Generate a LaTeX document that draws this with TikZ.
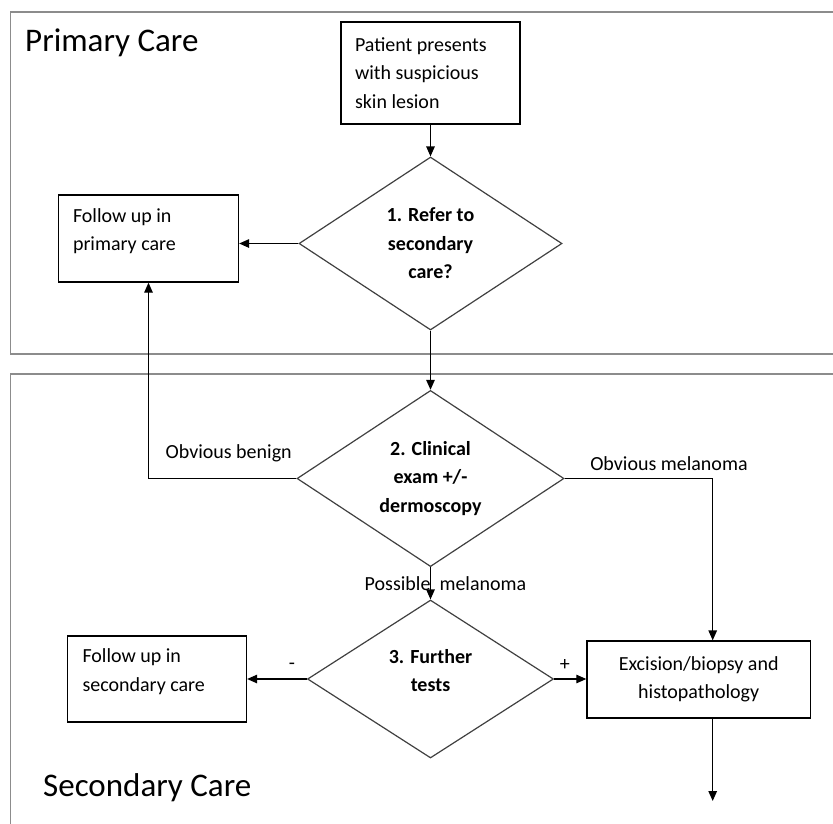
\documentclass[tikz,border=0pt]{standalone}
\usepackage{fontspec}
\setmainfont{Carlito}
\usetikzlibrary{shapes.geometric,arrows.meta}

\begin{document}
\begin{tikzpicture}[
    x=1pt, y=-1pt,
    every node/.style={font=\fontsize{20}{28.5}\selectfont},
    lane/.style={draw=gray!90, line width=1.2pt},
    stepbox/.style={rectangle, draw=black, line width=1.3pt, inner ysep=0pt, align=flush left},
    decision/.style={diamond, draw=black!75, line width=1.2pt, inner sep=0pt, align=center,
      font=\fontsize{20}{28.5}\selectfont\bfseries},
    link/.style={line width=1.3pt, -{Triangle[length=10pt,width=8.5pt]}},
    title/.style={anchor=west, inner sep=0pt, font=\fontsize{33}{38}\selectfont}
  ]
    \clip (0,0) rectangle (833,823);
    % swim lanes
    \draw[lane] (10.5,12) rectangle (850,354);
    \draw[lane] (10.5,374) rectangle (850,850);
    \node[title] (primary) at (25,43) {Primary Care};
    \node[title] (secondary) at (43,788) {Secondary Care};
    % primary care
    \node[stepbox, text width=151pt, inner xsep=14pt, minimum height=102pt] (patient) at (430.5,73)
      {Patient presents\\with suspicious\\skin lesion};
    \node[decision, minimum width=263pt, minimum height=173pt] (d1) at (430.5,243.5)
      {1. Refer to\\secondary\\care?};
    \node[stepbox, text width=151pt, inner xsep=14.5pt, minimum height=87pt] (fupp) at (148.5,238.5)
      {Follow up in\\primary care\\[-11pt]\mbox{}};
    % secondary care
    \node[decision, minimum width=267pt, minimum height=171pt] (d2) at (430.5,478.5)
      {2. Clinical\\exam +/-\\dermoscopy};
    \node[decision, minimum width=246pt, minimum height=158pt] (d3) at (430.5,679)
      {3. Further\\tests\\[-11pt]\mbox{}};
    \node[stepbox, text width=149pt, inner xsep=15pt, minimum height=86pt] (fusc) at (157,679)
      {Follow up in\\secondary care\\[-11pt]\mbox{}};
    \node[stepbox, align=flush center, text width=200pt, inner xsep=11.75pt, minimum height=77pt] (exc) at (698.7,679.5)
      {Excision/biopsy and\\histopathology};
    \coordinate (out) at (712.7,801);
    % connectors
    \draw[link] (patient.south) -- (d1.north);
    \draw[link] (d1.west) -- (d1.west -| fupp.east);
    \draw[link] (d1.south) -- (d2.north);
    \draw[link] (d2.west) -| node[pos=0, anchor=south east, inner sep=0pt, xshift=-4pt, yshift=16pt] {Obvious benign} (fupp.south);
    \draw[link] (d2.east) -| node[pos=0, anchor=south west, inner sep=0pt, xshift=25pt, yshift=7pt] {Obvious melanoma} ([xshift=14pt]exc.north);
    \draw[link] (d2.south) -- node[midway, xshift=15pt] {Possible\ \ melanoma} (d3.north);
    \draw[link] (d3.west) -- node[pos=0.25, yshift=13pt] {-} (d3.west -| fusc.east);
    \draw[link] (d3.east) -- node[pos=0.33, yshift=14pt] {+} (d3.east -| exc.west);
    \draw[link] ([xshift=14pt]exc.south) -- (out);
\end{tikzpicture}
\end{document}
